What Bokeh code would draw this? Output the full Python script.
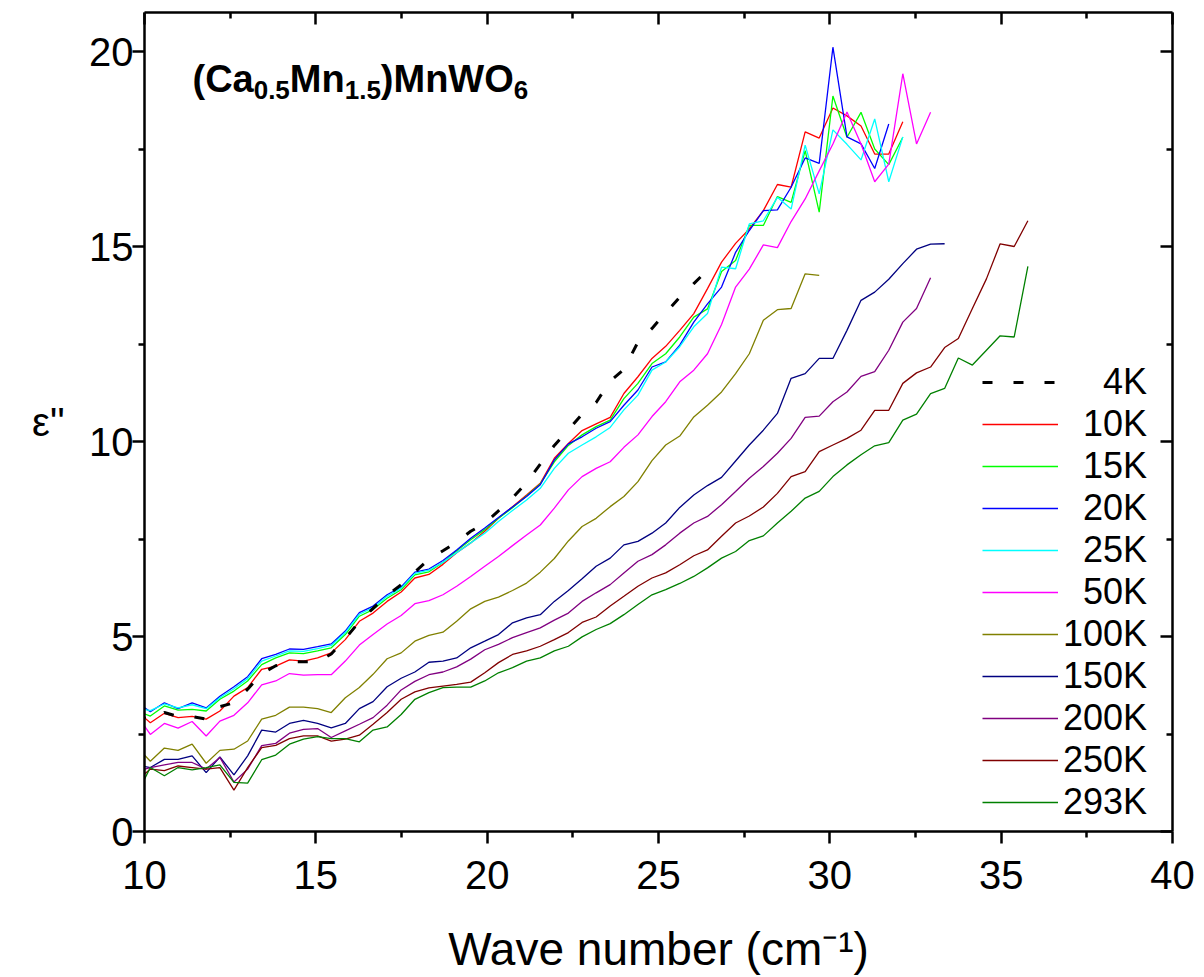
from bokeh.plotting import figure
from bokeh.models import (Range1d, LinearAxis, FixedTicker, Legend, LegendItem, Label,
                          CustomJSTickFormatter)
from bokeh.embed import file_html
from bokeh.resources import INLINE

# ---------------- data ----------------
wavenumber = [9.76, 10.17, 10.58, 10.98, 11.39, 11.80, 12.20, 12.61, 13.01, 13.42,
              13.83, 14.23, 14.64, 15.05, 15.45, 15.86, 16.27, 16.67, 17.08, 17.49,
              17.89, 18.30, 18.71, 19.11, 19.52, 19.93, 20.33, 20.74, 21.15, 21.55,
              21.96, 22.37, 22.77, 23.18, 23.59, 23.99, 24.40, 24.81, 25.21, 25.62,
              26.03, 26.43, 26.84, 27.25, 27.65, 28.06, 28.47, 28.87, 29.28, 29.69,
              30.09, 30.50, 30.91, 31.31, 31.72, 32.13, 32.53, 32.94, 33.35, 33.75,
              34.16, 34.57, 34.97, 35.38, 35.78]

eps_4K = [3.00, 2.85, 3.05, 2.95, 2.95, 2.88, 3.20, 3.30, 3.65, 4.05,
          4.25, 4.35, 4.35, 4.35, 4.55, 4.95, 5.38, 5.72, 6.05, 6.33,
          6.65, 6.98, 7.20, 7.42, 7.70, 7.90, 8.22, 8.55, 8.95, 9.42,
          9.90, 10.30, 10.70, 11.00, 11.55, 11.85, 12.55, 12.90, 13.30, 13.70,
          14.05, 14.39]

eps_10K = [3.10, 2.79, 3.03, 2.92, 2.95, 2.88, 3.09, 3.47, 3.69, 4.16,
           4.24, 4.40, 4.37, 4.45, 4.58, 4.92, 5.39, 5.60, 5.90, 6.14,
           6.50, 6.59, 6.85, 7.15, 7.40, 7.70, 8.03, 8.33, 8.63, 8.93,
           9.57, 9.95, 10.28, 10.45, 10.62, 11.23, 11.66, 12.13, 12.44, 12.85,
           13.28, 13.92, 14.60, 15.08, 15.45, 15.92, 16.59, 16.52, 17.94, 17.78,
           18.55, 18.35, 18.09, 17.37, 17.37, 18.20]

eps_15K = [3.10, 2.96, 3.22, 3.11, 3.13, 3.09, 3.39, 3.60, 3.86, 4.28,
           4.45, 4.58, 4.56, 4.63, 4.71, 5.05, 5.52, 5.69, 5.98, 6.20,
           6.58, 6.66, 6.90, 7.20, 7.48, 7.74, 8.03, 8.30, 8.60, 8.91,
           9.48, 9.90, 10.17, 10.38, 10.55, 11.10, 11.49, 12.00, 12.25, 12.68,
           13.19, 13.40, 14.36, 14.64, 15.54, 15.54, 16.28, 16.13, 17.46, 15.88,
           18.86, 17.80, 18.44, 17.50, 17.10, 17.80]

eps_20K = [3.33, 3.07, 3.30, 3.15, 3.30, 3.17, 3.47, 3.71, 3.97, 4.43,
           4.54, 4.68, 4.67, 4.74, 4.81, 5.14, 5.61, 5.78, 6.07, 6.27,
           6.65, 6.73, 6.95, 7.22, 7.52, 7.78, 8.05, 8.32, 8.59, 8.89,
           9.53, 9.94, 10.12, 10.34, 10.51, 10.93, 11.32, 11.91, 12.04, 12.47,
           13.06, 13.53, 13.96, 14.85, 15.41, 15.92, 15.94, 16.52, 17.27, 17.13,
           20.11, 17.81, 17.63, 17.00, 18.14]

eps_25K = [3.17, 3.10, 3.27, 3.17, 3.25, 3.15, 3.43, 3.66, 3.92, 4.37,
           4.50, 4.63, 4.62, 4.69, 4.77, 5.10, 5.57, 5.74, 6.03, 6.24,
           6.62, 6.70, 6.90, 7.15, 7.40, 7.65, 7.95, 8.23, 8.50, 8.80,
           9.31, 9.70, 9.91, 10.12, 10.36, 10.81, 11.19, 11.83, 12.04, 12.43,
           12.94, 13.28, 14.47, 14.43, 15.58, 15.66, 16.26, 15.96, 17.60, 16.35,
           17.99, 17.62, 17.22, 18.27, 16.66, 17.81]

eps_50K = [3.00, 2.49, 2.77, 2.65, 2.82, 2.45, 2.83, 2.98, 3.30, 3.76,
           3.86, 4.05, 4.01, 4.02, 4.02, 4.37, 4.78, 5.05, 5.32, 5.54,
           5.84, 5.92, 6.07, 6.29, 6.54, 6.80, 7.05, 7.33, 7.60, 7.86,
           8.29, 8.76, 9.10, 9.31, 9.48, 9.85, 10.17, 10.64, 11.02, 11.53,
           11.83, 12.25, 13.00, 13.96, 14.42, 15.04, 14.97, 15.64, 16.22, 16.94,
           17.63, 18.45, 17.63, 16.66, 17.11, 19.43, 17.63, 18.44]

eps_100K = [2.19, 1.80, 2.14, 2.08, 2.24, 1.75, 2.08, 2.11, 2.32, 2.88,
            2.98, 3.19, 3.19, 3.15, 3.05, 3.43, 3.69, 4.03, 4.43, 4.58,
            4.88, 5.03, 5.11, 5.39, 5.71, 5.90, 6.01, 6.18, 6.37, 6.65,
            7.00, 7.45, 7.82, 8.03, 8.33, 8.59, 8.97, 9.51, 9.91, 10.14,
            10.63, 10.93, 11.27, 11.74, 12.25, 13.11, 13.38, 13.41, 14.30, 14.26]

eps_150K = [1.71, 1.64, 1.85, 1.85, 1.94, 1.51, 1.91, 1.45, 1.94, 2.60,
            2.55, 2.77, 2.85, 2.77, 2.66, 2.77, 3.15, 3.33, 3.71, 3.93,
            4.09, 4.34, 4.37, 4.45, 4.71, 4.88, 5.05, 5.35, 5.48, 5.56,
            5.90, 6.18, 6.48, 6.80, 7.01, 7.35, 7.44, 7.65, 7.91, 8.31,
            8.63, 8.87, 9.08, 9.50, 9.91, 10.29, 10.72, 11.62, 11.74, 12.13,
            12.13, 12.85, 13.62, 13.83, 14.16, 14.56, 14.93, 15.06, 15.07]

eps_200K = [1.54, 1.64, 1.71, 1.77, 1.77, 1.60, 1.90, 1.27, 1.60, 2.20,
            2.26, 2.52, 2.62, 2.64, 2.41, 2.58, 2.75, 2.92, 3.24, 3.63,
            3.85, 4.02, 4.09, 4.22, 4.42, 4.66, 4.80, 4.97, 5.10, 5.22,
            5.42, 5.60, 5.90, 6.12, 6.33, 6.63, 6.93, 7.10, 7.35, 7.65,
            7.91, 8.08, 8.38, 8.72, 9.06, 9.36, 9.70, 10.08, 10.62, 10.65,
            11.02, 11.27, 11.67, 11.79, 12.34, 13.06, 13.41, 14.20]

eps_250K = [1.29, 1.60, 1.56, 1.68, 1.64, 1.60, 1.64, 1.06, 1.64, 2.15,
            2.21, 2.38, 2.45, 2.45, 2.32, 2.37, 2.47, 2.75, 3.05, 3.39,
            3.58, 3.68, 3.73, 3.77, 3.83, 4.07, 4.33, 4.54, 4.63, 4.75,
            4.92, 5.10, 5.36, 5.50, 5.78, 6.03, 6.29, 6.50, 6.63, 6.84,
            7.07, 7.22, 7.57, 7.91, 8.09, 8.32, 8.67, 9.10, 9.23, 9.74,
            9.91, 10.08, 10.29, 10.80, 10.80, 11.49, 11.76, 11.91, 12.41, 12.64,
            13.41, 14.17, 15.07, 15.00, 15.66]

eps_293K = [0.92, 1.64, 1.43, 1.64, 1.58, 1.64, 1.71, 1.26, 1.24, 1.84,
            1.96, 2.24, 2.37, 2.43, 2.38, 2.38, 2.30, 2.60, 2.68, 3.00,
            3.39, 3.56, 3.69, 3.70, 3.70, 3.86, 4.07, 4.20, 4.37, 4.45,
            4.63, 4.75, 4.99, 5.18, 5.33, 5.56, 5.82, 6.07, 6.20, 6.36,
            6.54, 6.76, 7.01, 7.18, 7.46, 7.58, 7.91, 8.21, 8.55, 8.72,
            9.10, 9.40, 9.66, 9.89, 9.97, 10.55, 10.70, 11.23, 11.36, 12.14,
            11.96, 12.34, 12.71, 12.68, 14.49]

temperatures = ["4K", "10K", "15K", "20K", "25K", "50K", "100K", "150K", "200K", "250K", "293K"]
series_values = [eps_4K, eps_10K, eps_15K, eps_20K, eps_25K, eps_50K, eps_100K,
                 eps_150K, eps_200K, eps_250K, eps_293K]
colors = ["#000000", "#FF0000", "#00FF00", "#0000FF", "#00FFFF", "#FF00FF",
          "#808000", "#000080", "#800080", "#800000", "#008000"]

x_ticks = [10, 15, 20, 25, 30, 35, 40]
x_minor = [12.5, 17.5, 22.5, 27.5, 32.5, 37.5]
y_ticks = [0, 5, 10, 15, 20]
y_minor = [2.5, 7.5, 12.5, 17.5]

# ---------------- figure ----------------
FONT = "Liberation Sans"
p = figure(width=1204, height=977, x_range=Range1d(10, 40), y_range=Range1d(0, 21),
           output_backend="svg", toolbar_location=None,
           min_border_left=144, min_border_right=32, min_border_top=12, min_border_bottom=145)
p.outline_line_color = None
p.xgrid.visible = False
p.ygrid.visible = False
p.background_fill_color = "white"
p.border_fill_color = "white"

def style_axis(ax, ticks, minor, show_labels, inward):
    ax.ticker = FixedTicker(ticks=ticks, minor_ticks=minor)
    ax.axis_line_width = 2.5
    ax.axis_line_color = "black"
    ax.major_tick_line_width = 2.5
    ax.minor_tick_line_width = 2.5
    ax.major_tick_line_color = "black"
    ax.minor_tick_line_color = "black"
    if inward:
        ax.major_tick_in, ax.major_tick_out = 12, 0
        ax.minor_tick_in, ax.minor_tick_out = 6, 0
    else:
        ax.major_tick_in, ax.major_tick_out = 0, 12
        ax.minor_tick_in, ax.minor_tick_out = 0, 6
    if show_labels:
        ax.major_label_text_font = FONT
        ax.major_label_text_font_size = "40px"
        ax.major_label_text_color = "black"
    else:
        ax.formatter = CustomJSTickFormatter(code="return ''")
        ax.major_label_text_font_size = "0px"
        ax.major_label_standoff = 0

xa = p.xaxis[0]
style_axis(xa, x_ticks, x_minor, True, False)
xa.major_label_standoff = 17
xa.axis_label = "Wave number (cm\u207b\u00b9)"
xa.axis_label_text_font = FONT
xa.axis_label_text_font_size = "46px"
xa.axis_label_text_font_style = "normal"
xa.axis_label_text_color = "black"
xa.axis_label_standoff = 31

ya = p.yaxis[0]
style_axis(ya, y_ticks, y_minor, True, False)
ya.major_label_standoff = -1
ya.axis_label = "\u03b5''"
ya.axis_label_text_font = FONT
ya.axis_label_text_font_size = "40px"
ya.axis_label_text_font_style = "normal"
ya.axis_label_text_color = "black"
ya.axis_label_orientation = "horizontal"
ya.axis_label_standoff = 21

top = LinearAxis()
style_axis(top, x_ticks, x_minor, False, True)
p.add_layout(top, "above")
right = LinearAxis()
style_axis(right, y_ticks, y_minor, False, True)
p.add_layout(right, "right")

# ---------------- lines ----------------
renderers = {}
order = list(range(1, len(temperatures))) + [0]
for i in order:
    vals = series_values[i]
    xs = wavenumber[:len(vals)]
    if temperatures[i] == "4K":
        r = p.line(xs, vals, line_color=colors[i], line_width=3, line_dash="10 21")
    else:
        r = p.line(xs, vals, line_color=colors[i], line_width=1.3)
    renderers[i] = r

# legend with right-aligned labels (padded with no-break spaces)
def padded(t):
    digits = len(t) - 1
    return "\u00a0" * (2 * (3 - digits)) + t

items = [LegendItem(label=padded(temperatures[i]), renderers=[renderers[i]])
         for i in range(len(temperatures))]
legend = Legend(items=items, location=(838, 8), glyph_width=76, glyph_height=42,
                label_height=42, spacing=0, padding=0, margin=0, label_standoff=5,
                border_line_alpha=0, background_fill_alpha=0,
                label_text_font=FONT, label_text_font_size="36px",
                label_text_color="black")
p.add_layout(legend)

# ---------------- compound title: (Ca0.5Mn1.5)MnWO6 ----------------
MAIN = 38
SUB = 26
bold_w = {"(": 0.333, ")": 0.333, "C": 0.722, "a": 0.556, "M": 0.833, "n": 0.611,
          "W": 0.944, "O": 0.778, ".": 0.278}
for d in "0123456789":
    bold_w[d] = 0.556
pieces = [("(Ca", False), ("0.5", True), ("Mn", False), ("1.5", True),
          (")MnWO", False), ("6", True)]
title_x, title_y = 11.40, 19.30
off = 0.0
for txt, is_sub in pieces:
    size = SUB if is_sub else MAIN
    p.add_layout(Label(x=title_x, y=title_y, x_offset=off, y_offset=(-11 if is_sub else 0),
                       text=txt, text_font=FONT, text_font_size=f"{size}px",
                       text_font_style="bold", text_color="black",
                       text_baseline="alphabetic", text_align="left"))
    off += sum(bold_w[c] for c in txt) * size

open("out.html", "w").write(file_html(p, INLINE))
